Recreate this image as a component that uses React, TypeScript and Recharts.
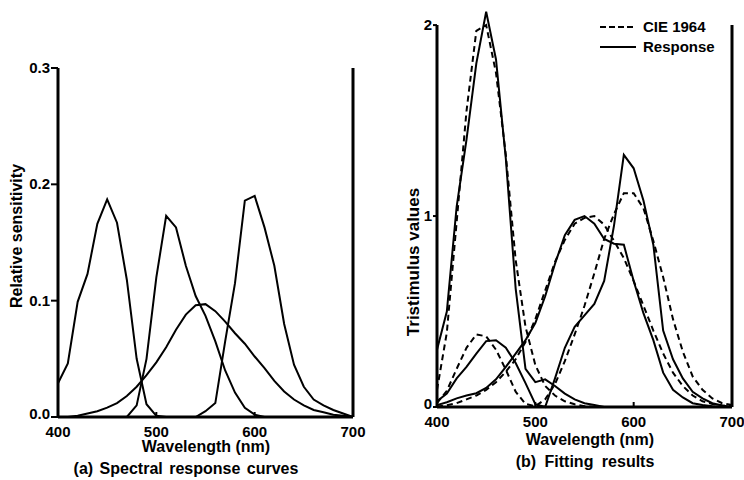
import { LineChart, Line, XAxis, YAxis, ReferenceLine } from 'recharts';

// wavelength grid (nm)
const wavelengths = [
  400, 410, 420, 430, 440, 450, 460, 470, 480, 490, 500, 510, 520, 530, 540, 550,
  560, 570, 580, 590, 600, 610, 620, 630, 640, 650, 660, 670, 680, 690, 700,
];

// (a) spectral response curves of the four channels
const sensBlue = [
  0.029, 0.046, 0.099, 0.123, 0.166, 0.187, 0.167, 0.118, 0.05, 0.011, 0.001, 0, 0, 0, 0, 0,
  0, 0, 0, 0, 0, 0, 0, 0, 0, 0, 0, 0, 0, 0, 0,
];
const sensGreen = [
  0, 0, 0, 0, 0, 0, 0, 0, 0.01, 0.05, 0.12, 0.173, 0.163, 0.13, 0.104, 0.087,
  0.065, 0.04, 0.021, 0.008, 0.002, 0, 0, 0, 0, 0, 0, 0, 0, 0, 0,
];
const sensBroad = [
  0, 0, 0.001, 0.003, 0.005, 0.008, 0.012, 0.018, 0.026, 0.036, 0.047, 0.06, 0.075, 0.088, 0.096, 0.097,
  0.091, 0.082, 0.072, 0.063, 0.052, 0.042, 0.031, 0.022, 0.015, 0.01, 0.006, 0.004, 0.002, 0.001, 0,
];
const sensRed = [
  0, 0, 0, 0, 0, 0, 0, 0, 0, 0, 0, 0, 0, 0, 0, 0.005,
  0.012, 0.065, 0.115, 0.186, 0.19, 0.163, 0.13, 0.08, 0.045, 0.026, 0.015, 0.01, 0.006, 0.003, 0,
];

// (b) CIE 1964 colour matching functions (dashed)
const cieX = [
  0.02, 0.085, 0.2, 0.31, 0.38, 0.37, 0.3, 0.195, 0.08, 0.016, 0.004, 0.04, 0.12, 0.24, 0.38, 0.53,
  0.7, 0.88, 1.01, 1.12, 1.12, 1.04, 0.87, 0.68, 0.46, 0.29, 0.16, 0.09, 0.045, 0.02, 0.01,
];
const cieY = [
  0.002, 0.009, 0.02, 0.04, 0.06, 0.09, 0.13, 0.185, 0.25, 0.34, 0.46, 0.61, 0.76, 0.875, 0.96, 0.99,
  1.0, 0.955, 0.87, 0.78, 0.66, 0.53, 0.4, 0.28, 0.18, 0.11, 0.06, 0.03, 0.016, 0.008, 0.004,
];
const cieZ = [
  0.09, 0.39, 0.97, 1.55, 1.97, 2.0, 1.75, 1.32, 0.77, 0.42, 0.22, 0.11, 0.06, 0.03, 0.014, 0.004,
  0, 0, 0, 0, 0, 0, 0, 0, 0, 0, 0, 0, 0, 0, 0,
];

// (b) fitted response (solid)
const respX = [
  0.03, 0.07, 0.15, 0.21, 0.28, 0.345, 0.35, 0.31, 0.23, 0.125, 0.015, 0, 0.15, 0.31, 0.42, 0.48,
  0.54, 0.66, 0.95, 1.32, 1.25, 1.08, 0.85, 0.4, 0.25, 0.15, 0.08, 0.045, 0.02, 0.008, 0,
];
const respY = [
  0.01, 0.025, 0.045, 0.06, 0.072, 0.1, 0.145, 0.21, 0.28, 0.35, 0.44, 0.58, 0.75, 0.9, 0.98, 1.0,
  0.96, 0.88, 0.855, 0.85, 0.66, 0.49, 0.35, 0.18, 0.09, 0.05, 0.02, 0.01, 0.004, 0.001, 0,
];
const respZ = [
  0.3, 0.5, 1.05, 1.4, 1.8, 2.07, 1.82, 1.3, 0.62, 0.2, 0.13, 0.145, 0.11, 0.07, 0.04, 0.02,
  0.01, 0, 0, 0, 0, 0, 0, 0, 0, 0, 0, 0, 0, 0, 0,
];

const xTicks = [400, 500, 600, 700];
const sensTicks = [0, 0.1, 0.2, 0.3];
const tristTicks = [0, 1, 2];

const FONT = '"Liberation Sans", Arial, sans-serif';
const tickStyle = { fill: '#000', fontSize: 15, fontWeight: 700, fontFamily: FONT };
const axisLine = { stroke: '#000', strokeWidth: 3 };
const tickLine = { stroke: '#000', strokeWidth: 2 };

const sensData = wavelengths.map((wl, i) => ({
  wl,
  blue: sensBlue[i],
  green: sensGreen[i],
  broad: sensBroad[i],
  red: sensRed[i],
}));

const fitData = wavelengths.map((wl, i) => ({
  wl,
  cieX: cieX[i],
  cieY: cieY[i],
  cieZ: cieZ[i],
  respX: respX[i],
  respY: respY[i],
  respZ: respZ[i],
}));

// y tick label; the zero label sits a little higher so it clears the x labels
function makeYTick(digits: number) {
  return function YTick({ x, y, payload }: any) {
    const v = payload.value as number;
    return (
      <text
        x={x}
        y={y}
        dy={v === 0 ? 2 : 5}
        textAnchor="end"
        fill="#000"
        fontSize={15}
        fontWeight={700}
        fontFamily={FONT}
      >
        {digits ? v.toFixed(digits) : v}
      </text>
    );
  };
}

function Text({ x, y, children, rotate, size = 16, spacing = 0 }: any) {
  return (
    <div
      style={{
        position: 'absolute',
        left: x,
        top: y,
        transform: `translate(-50%, -50%)${rotate ? ' rotate(-90deg)' : ''}`,
        whiteSpace: 'nowrap',
        fontSize: size,
        fontWeight: 700,
        color: '#000',
        lineHeight: 1,
        wordSpacing: spacing,
      }}
    >
      {children}
    </div>
  );
}

function LegendRow({ dashed, label, top }: { dashed: boolean; label: string; top: number }) {
  return (
    <div style={{ position: 'absolute', left: 600, top, display: 'flex', alignItems: 'center' }}>
      <svg width={38} height={6}>
        <line
          x1={0}
          y1={3}
          x2={36}
          y2={3}
          stroke="#000"
          strokeWidth={2}
          strokeDasharray={dashed ? '6 3' : undefined}
        />
      </svg>
      <span style={{ fontSize: 15, fontWeight: 700, marginLeft: 5, lineHeight: 1 }}>{label}</span>
    </div>
  );
}

const solid = { stroke: '#000', strokeWidth: 2, dot: false, isAnimationActive: false, type: 'linear' as const };

export default function App() {
  return (
    <div
      style={{
        position: 'fixed',
        left: 0,
        top: 0,
        width: 744,
        height: 480,
        background: '#fff',
        fontFamily: FONT,
        overflow: 'hidden',
      }}
    >
      <div style={{ position: 'absolute', left: 0, top: 0 }}>
        <LineChart width={370} height={480} data={sensData} margin={{ top: 68, right: 7, bottom: 33, left: 8 }}>
          <XAxis
            dataKey="wl"
            type="number"
            domain={[400, 700]}
            ticks={xTicks}
            tickSize={-5}
            tickMargin={14}
            axisLine={axisLine}
            tickLine={tickLine}
            tick={tickStyle}
            height={30}
          />
          <YAxis
            domain={[0, 0.3]}
            ticks={sensTicks}
            tickSize={7}
            tickMargin={1}
            width={50}
            axisLine={axisLine}
            tickLine={tickLine}
            tick={makeYTick(1)}
          />
          <YAxis
            yAxisId="r"
            orientation="right"
            domain={[0, 0.3]}
            ticks={[0.1, 0.2, 0.3]}
            tickSize={-6}
            width={10}
            axisLine={axisLine}
            tickLine={tickLine}
            tickFormatter={() => ''}
          />
          <Line dataKey="blue" {...solid} />
          <Line dataKey="green" {...solid} />
          <Line dataKey="broad" {...solid} />
          <Line dataKey="red" {...solid} />
        </LineChart>
      </div>

      <div style={{ position: 'absolute', left: 380, top: 0 }}>
        {/* domain reaches 2.1 so the blue peak can poke above the frame, which stops at 2 */}
        <LineChart width={364} height={480} data={fitData} margin={{ top: 6, right: 6, bottom: 43, left: 17 }}>
          <XAxis
            dataKey="wl"
            type="number"
            domain={[400, 700]}
            ticks={xTicks}
            tickSize={-5}
            tickMargin={14}
            axisLine={axisLine}
            tickLine={tickLine}
            tick={tickStyle}
            height={30}
          />
          <YAxis
            domain={[0, 2.1]}
            ticks={tristTicks}
            tickSize={4}
            tickMargin={1}
            width={40}
            axisLine={false}
            tickLine={tickLine}
            tick={makeYTick(0)}
          />
          <YAxis
            yAxisId="r"
            orientation="right"
            domain={[0, 2.1]}
            ticks={[1, 2]}
            tickSize={-6}
            width={6}
            axisLine={false}
            tickLine={tickLine}
            tickFormatter={() => ''}
          />
          <ReferenceLine segment={[{ x: 400, y: 0 }, { x: 400, y: 2 }]} stroke="#000" strokeWidth={3} />
          <ReferenceLine segment={[{ x: 700, y: 0 }, { x: 700, y: 2 }]} stroke="#000" strokeWidth={3} />
          <Line dataKey="cieX" {...solid} strokeDasharray="6 4" />
          <Line dataKey="cieY" {...solid} strokeDasharray="6 4" />
          <Line dataKey="cieZ" {...solid} strokeDasharray="6 4" />
          <Line dataKey="respX" {...solid} />
          <Line dataKey="respY" {...solid} />
          <Line dataKey="respZ" {...solid} />
        </LineChart>
      </div>

      <LegendRow dashed label="CIE 1964" top={19} />
      <LegendRow dashed={false} label="Response" top={39} />

      <Text x={17} y={236} rotate>Relative sensitivity</Text>
      <Text x={206} y={447}>Wavelength (nm)</Text>
      <Text x={186} y={469} spacing={2}>(a) Spectral response curves</Text>

      <Text x={413} y={262} rotate size={17}>Tristimulus values</Text>
      <Text x={590} y={440}>Wavelength (nm)</Text>
      <Text x={585} y={462} spacing={4}>(b) Fitting results</Text>
    </div>
  );
}
